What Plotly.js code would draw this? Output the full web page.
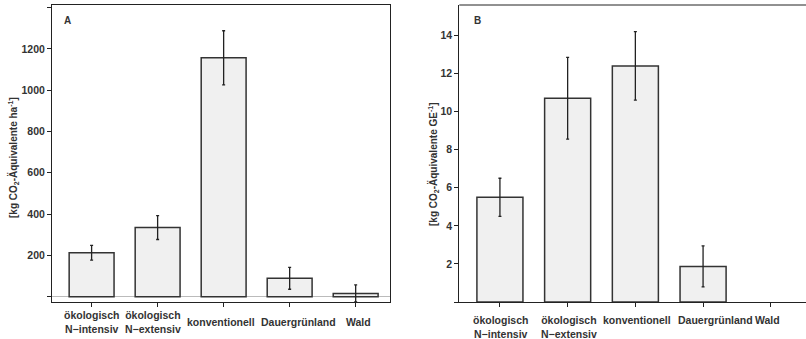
<!DOCTYPE html>
<html>
<head>
<meta charset="utf-8">
<script src="https://cdn.plot.ly/plotly-3.0.1.min.js"></script>
<style>html,body{margin:0;padding:0;background:#fff;}#chart{width:806px;height:339px;}</style>
</head>
<body>
<div id="chart"></div>
<script>
// Data
const categories = ["ökologisch<br>N−intensiv", "ökologisch<br>N−extensiv", "konventionell", "Dauergrünland", "Wald"];
const valuesA = [213, 335, 1157, 89, 16];
const errorsA = [36, 58, 131, 53, 41];
const valuesB = [5.5, 10.7, 12.4, 1.87, null];
const errorsB = [1.0, 2.15, 1.8, 1.08, 0];
const tickValsA = [200, 400, 600, 800, 1000, 1200];
const tickTextA = ["200", "400", "600", "800", "1000", "1200"];
const bareTicksA = [0, 1400];
const tickValsB = [2, 4, 6, 8, 10, 12, 14];
const tickTextB = ["2", "4", "6", "8", "10", "12", "14"];
const bareTicksB = [0];

// Layout-only: horizontal nudges of the category labels (px), as in the original
const labelShiftA = [0, -4.5, -2.3, 8.4, 2.5];
const labelShiftB = [1, 1.3, 1.4, 12.7, -3.7];

const W = 806, H = 339;
const FONT = "Liberation Sans, Arial, sans-serif";
const txt = "#333333";
const py = p => (302 - p) / 297; // pixel row -> paper y

const barStyle = {
  color: "#f0f0f0",
  line: {color: "#333333", width: 1.5}
};
const errStyle = {color: "#222222", thickness: 1.3, width: 1.5};

const traces = [
  {
    type: "bar", x: categories, y: valuesA, xaxis: "x", yaxis: "y",
    marker: barStyle,
    error_y: Object.assign({type: "data", array: errorsA, visible: true}, errStyle),
    hoverinfo: "none", showlegend: false
  },
  {
    type: "bar", x: categories, y: valuesB, xaxis: "x2", yaxis: "y2",
    marker: barStyle,
    error_y: Object.assign({type: "data", array: errorsB, visible: true}, errStyle),
    hoverinfo: "none", showlegend: false
  }
];

const tickFont = {family: FONT, size: 10.5, color: txt, weight: "bold"};

const commonX = {
  type: "category", range: [-0.6, 4.52],
  showline: true, linecolor: "#222", linewidth: 1,
  ticks: "outside", ticklen: 4, tickcolor: "#222", tickwidth: 1,
  showticklabels: false, showgrid: false, zeroline: false, fixedrange: true
};

const annotations = [
  {text: "A", xref: "paper", yref: "paper", x: 67/W, y: py(21), xanchor: "center", yanchor: "middle",
   showarrow: false, font: {family: FONT, size: 10, color: txt, weight: "bold"}},
  {text: "B", xref: "paper", yref: "paper", x: 477.7/W, y: py(21), xanchor: "center", yanchor: "middle",
   showarrow: false, font: {family: FONT, size: 10, color: txt, weight: "bold"}},
  {text: "[kg CO<sub>2</sub>-Äquivalente ha<sup>-1</sup>]", xref: "paper", yref: "paper",
   x: 13/W, y: py(158), xanchor: "center", yanchor: "middle", textangle: -90,
   showarrow: false, font: {family: FONT, size: 10, color: txt, weight: "bold"}},
  {text: "[kg CO<sub>2</sub>-Äquivalente GE<sup>-1</sup>]", xref: "paper", yref: "paper",
   x: 433/W, y: py(164), xanchor: "center", yanchor: "middle", textangle: -90,
   showarrow: false, font: {family: FONT, size: 10, color: txt, weight: "bold"}}
];
categories.forEach((c, i) => {
  annotations.push({text: c, xref: "x", yref: "paper", x: c, y: py(322), xanchor: "center", yanchor: "middle",
    xshift: labelShiftA[i], showarrow: false, align: "center",
    font: {family: FONT, size: 10.5, color: txt, weight: "bold"}});
  annotations.push({text: c, xref: "x2", yref: "paper", x: c, y: py(311.5), xanchor: "center", yanchor: "top",
    xshift: labelShiftB[i], showarrow: false, align: "center",
    font: {family: FONT, size: 10.5, color: txt, weight: "bold"}});
});

const layout = {
  width: W, height: H,
  margin: {l: 0, r: 0, t: 5, b: 37},
  paper_bgcolor: "#fff", plot_bgcolor: "#fff",
  bargap: 0.32,
  font: {family: FONT, color: txt},
  xaxis: Object.assign({}, commonX, {domain: [52/W, 390/W], anchor: "y", mirror: true}),
  yaxis: {
    domain: [0, 1], anchor: "x", range: [-25.7, 1412.6],
    tickmode: "array", tickvals: tickValsA, ticktext: tickTextA,
    minor: {tickmode: "array", tickvals: bareTicksA, ticks: "outside", ticklen: 4, tickcolor: "#222", showgrid: false},
    showline: true, linecolor: "#222", linewidth: 1, mirror: true,
    ticks: "outside", ticklen: 4, tickcolor: "#222",
    tickfont: tickFont, showgrid: false,
    zeroline: true, zerolinecolor: "#bbbbbb", zerolinewidth: 1, fixedrange: true
  },
  xaxis2: Object.assign({}, commonX, {domain: [459.3/W, 1], anchor: "y2", mirror: false}),
  yaxis2: {
    domain: [0, 1], anchor: "x2", range: [0, 15.6],
    tickmode: "array", tickvals: tickValsB, ticktext: tickTextB,
    minor: {tickmode: "array", tickvals: bareTicksB, ticks: "outside", ticklen: 4, tickcolor: "#222", showgrid: false},
    showline: true, linecolor: "#222", linewidth: 1,
    ticks: "outside", ticklen: 4, tickcolor: "#222",
    tickfont: tickFont, showgrid: false, zeroline: false, fixedrange: true
  },
  shapes: [
    {type: "line", xref: "paper", yref: "paper", x0: 459.3/W, x1: 1, y0: 1, y1: 1,
     line: {color: "#222", width: 1}}
  ],
  annotations: annotations
};

Plotly.newPlot("chart", traces, layout, {displayModeBar: false, staticPlot: true});
</script>
</body>
</html>
